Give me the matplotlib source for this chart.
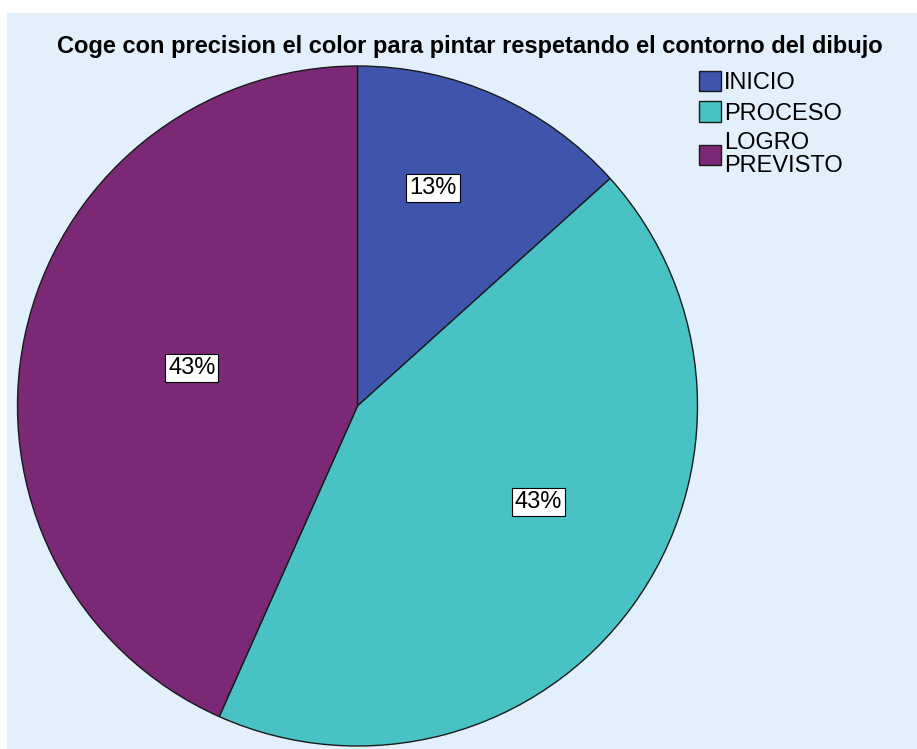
import matplotlib
matplotlib.use('Agg')
import matplotlib.pyplot as plt
from matplotlib.patches import Rectangle

plt.rcParams['font.family'] = ['Liberation Sans', 'DejaVu Sans']

categories = ['INICIO', 'PROCESO', 'LOGRO\nPREVISTO']
counts = [4, 13, 13]
colors = ['#3F55AB', '#48C2C5', '#7B2877']
title = 'Coge con precision el color para pintar respetando el contorno del dibujo'

fig = plt.figure(figsize=(9.17, 7.49), dpi=100)
fig.patch.set_facecolor('white')
# light blue panel behind everything
fig.patches.append(Rectangle((7 / 917, 0), 1, 1 - 13 / 749, transform=fig.transFigure,
                             facecolor='#E3EFFB', edgecolor='none', zorder=-10))

ax = fig.add_axes([17.5 / 917, 3 / 749, 680 / 917, 680 / 749], zorder=1)
ax.set_facecolor('none')
wedges, texts, autotexts = ax.pie(counts, colors=colors, startangle=90, counterclock=False,
                                  radius=1, autopct='%.0f%%', pctdistance=0.6,
                                  wedgeprops=dict(edgecolor='#1a1a1a', linewidth=1.0))
ax.set_xlim(-1, 1)
ax.set_ylim(-1, 1)
ax.set_aspect('auto')
ax.axis('off')

# SPSS places the percent labels a bit differently than matplotlib
label_pos = [(0.222, 0.641), (0.531, -0.282), (-0.487, 0.112)]
for t, p in zip(autotexts, label_pos):
    t.set_position(p)
    t.set_fontsize(17)
    t.set_color('black')
    t.set_bbox(dict(boxstyle='square,pad=0.12', facecolor='white', edgecolor='black', linewidth=0.8))

fig.text(470 / 917, 1 - 46 / 749, title, ha='center', va='center', fontsize=17, fontweight='bold')

leg = fig.legend(wedges, categories, loc='upper left', bbox_to_anchor=(699 / 917, 1 - 71 / 749),
                 frameon=False, fontsize=17, handlelength=0.95, handleheight=0.95,
                 handletextpad=0.12, labelspacing=0.3, borderaxespad=0, borderpad=0)
leg.set_zorder(2)
for t in leg.get_texts():
    t.set_linespacing(1.08)

fig.savefig('out.png', dpi=100)
